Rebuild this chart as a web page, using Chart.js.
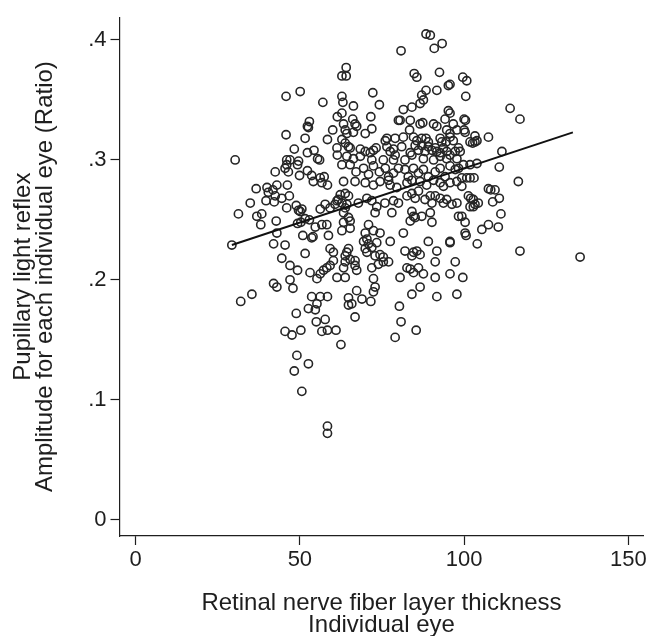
<!DOCTYPE html>
<html>
<head>
<meta charset="utf-8">
<script src="https://cdn.jsdelivr.net/npm/chart.js@4.4.1/dist/chart.umd.min.js"></script>
<style>
  html, body { margin: 0; padding: 0; background: #fff; }
  #plot { display: block; }
</style>
</head>
<body>
<canvas id="plot" width="650" height="636"></canvas>
<script>
// Ejes: ticks y rangos tal como salen en la figura
const xTicks = [0, 50, 100, 150];
const yTicks = [0, 0.1, 0.2, 0.3, 0.4];
const xRange = [-4.9, 154.6];
const yRange = [-0.0136, 0.419];

// Recta de ajuste lineal (extremos)
const fitX = [29.3, 133.1];
const fitY = [0.229, 0.323];

// Cada ojo: [grosor RNFL, amplitud del reflejo]
const eyes = [
  // izquierda / arriba
  [50.1,.357],[45.8,.353],[57.0,.348],[52.9,.332],[52.3,.328],[52.6,.327],[61.4,.336],[60.0,.325],[45.8,.321],[51.6,.318],
  [58.4,.317],[48.3,.309],[52.3,.306],[54.3,.308],[55.4,.301],[56.0,.300],[61.3,.310],[61.4,.304],[30.3,.300],[46.0,.300],
  [47.0,.300],[49.6,.299],
  // izquierda / centro
  [42.5,.290],[45.5,.293],[46.0,.296],[46.5,.290],[49.3,.296],[49.9,.287],[52.3,.291],[53.6,.287],[54.1,.282],[56.2,.285],
  [57.4,.286],[58.4,.279],[56.7,.281],[36.7,.276],[40.0,.277],[40.4,.273],[41.8,.275],[43.0,.279],[42.5,.270],[46.2,.279],
  [46.8,.270],[39.7,.266],[42.2,.265],[44.5,.268],[34.9,.264],[31.3,.255],[36.9,.253],[38.4,.255],[38.1,.246],[46.0,.260],
  [48.9,.262],[49.6,.258],[50.1,.257],[50.6,.259],[49.3,.247],[50.3,.248],[51.6,.251],[52.9,.250],[42.8,.249],[43.0,.239],
  [56.2,.259],[57.7,.263],[59.2,.260],[60.7,.263],[61.3,.266],[61.7,.267],[54.7,.244],[56.7,.246],[58.2,.246],[54.0,.236],
  [50.9,.237],[53.6,.235],[58.7,.237],[29.3,.229],[42.0,.230],[45.5,.229],[51.6,.222],[59.2,.226],[60.2,.223],[44.5,.218],
  [47.0,.212],[49.3,.208],[53.1,.206],[55.2,.201],[56.2,.205],[57.2,.208],[58.2,.210],[59.2,.212],[60.2,.216],[61.3,.202],
  [42.0,.197],[43.0,.194],[47.0,.200],[47.9,.193],[35.4,.188],[32.0,.182],[53.6,.186],[56.2,.186],[58.4,.186],
  // izquierda / abajo
  [48.9,.172],[52.6,.176],[54.7,.175],[55.2,.180],[55.0,.165],[57.7,.167],[56.7,.157],[58.4,.158],[61.0,.158],[45.5,.157],
  [47.6,.154],[50.3,.158],[62.5,.146],[49.1,.137],[52.6,.130],[48.3,.124],[50.6,.107],[58.4,.078],[58.4,.072],
  // centro / abajo
  [64.8,.179],[65.8,.180],[71.6,.182],[80.3,.178],[66.8,.169],[80.8,.165],[85.4,.158],[79.0,.152],
  // centro
  [62.8,.296],[65.3,.296],[67.1,.290],[69.4,.293],[70.9,.288],[72.4,.295],[74.2,.290],[76.0,.293],[77.0,.286],[78.5,.289],
  [80.0,.293],[82.0,.292],[83.0,.286],[84.6,.293],[86.1,.289],[87.6,.292],[89.1,.286],[91.2,.290],[92.7,.293],[94.2,.286],
  [95.7,.295],[97.3,.292],[98.3,.293],
  [63.3,.282],[66.8,.282],[69.9,.281],[72.4,.279],[74.4,.282],[77.0,.283],[77.5,.279],[79.5,.277],[82.6,.281],[84.1,.283],
  [86.6,.282],[88.6,.279],[90.7,.283],[92.7,.281],[93.7,.278],[95.7,.281],[97.8,.282],
  [62.3,.271],[63.8,.272],[64.8,.270],[62.8,.264],[64.3,.263],[63.8,.260],[67.8,.264],[70.4,.268],[71.9,.266],[73.4,.261],
  [72.9,.256],[75.9,.264],[78.5,.266],[80.0,.264],[82.6,.270],[84.1,.272],[85.1,.268],[86.1,.274],[88.1,.267],[89.7,.270],
  [90.2,.264],[91.2,.270],[92.7,.268],[93.7,.264],[94.7,.267],[96.3,.263],[97.8,.264],
  [63.3,.256],[64.8,.252],[65.3,.249],[63.3,.248],[65.3,.243],[62.8,.241],[70.9,.246],[72.4,.241],[74.4,.239],[77.5,.232],
  [78.0,.256],[84.1,.257],[84.6,.253],[83.6,.249],[85.1,.252],[87.1,.253],[89.7,.256],[90.2,.248],[81.5,.239],[95.7,.231],
  [98.3,.253],
  [69.9,.239],[70.4,.234],[69.4,.232],[70.9,.230],[71.9,.227],[69.9,.226],[70.4,.223],[64.8,.226],[64.3,.223],[63.8,.220],
  [65.3,.217],[63.8,.215],[66.8,.216],[72.9,.220],[74.4,.221],[75.4,.219],[77.0,.215],[82.0,.224],[84.6,.223],[85.6,.224],
  [86.6,.221],[84.1,.220],[89.1,.232],[91.7,.224],[91.2,.215],[95.7,.232],[97.3,.215],[73.4,.231],
  [63.3,.210],[63.8,.202],[66.8,.212],[67.3,.208],[71.9,.210],[72.4,.201],[72.9,.194],[72.4,.190],[67.3,.191],[64.8,.185],
  [68.9,.184],[80.5,.202],[82.6,.210],[83.6,.209],[84.6,.206],[86.1,.210],[87.6,.205],[91.2,.202],[86.6,.194],[84.1,.188],
  [91.7,.186],[95.7,.205],[97.8,.188],[73.9,.213],[75.4,.215],
  // derecha
  [99.8,.296],[101.8,.296],[103.9,.297],[110.7,.294],[99.3,.285],[100.8,.285],[101.8,.285],[103.0,.285],[99.3,.278],[116.5,.282],
  [107.4,.276],[108.1,.275],[109.4,.275],[110.7,.268],[108.7,.265],[101.3,.270],[102.0,.268],[102.8,.267],[103.3,.263],[104.3,.264],
  [101.8,.261],[102.8,.261],[111.2,.255],[99.3,.253],[100.3,.248],[100.3,.239],[100.6,.237],[107.4,.246],[105.4,.242],[110.4,.244],
  [104.0,.230],[117.0,.224],[135.3,.219],[99.6,.202],
  [99.6,.369],[100.8,.366],[100.5,.353],[114.0,.343],[117.0,.334],[100.0,.334],[100.4,.333],[100.0,.325],[100.3,.323],[107.4,.319],
  [103.3,.320],[101.8,.315],[102.6,.314],[103.3,.315],[103.9,.316],[111.5,.307],[98.8,.307],
  // centro / arriba
  [88.4,.405],[89.7,.404],[93.3,.397],[90.9,.393],[80.8,.391],[64.1,.377],[62.8,.370],[64.1,.370],[84.8,.372],[85.6,.369],
  [92.5,.373],[95.2,.362],[95.7,.363],[72.2,.356],[88.4,.358],[91.7,.358],[87.1,.354],[87.6,.350],[86.6,.347],[62.8,.353],
  [63.1,.348],[66.3,.345],[74.2,.346],[84.1,.344],[81.5,.342],[95.2,.341],[95.7,.339],[94.2,.334],[62.8,.339],[71.6,.336],
  [66.1,.334],[66.8,.330],[67.3,.328],[66.3,.323],[83.6,.333],[80.5,.333],[80.0,.333],[87.4,.331],[86.6,.330],[90.7,.330],
  [91.7,.328],[96.7,.330],[97.8,.325],[94.7,.325],[95.7,.322],[63.3,.330],[63.8,.325],[64.3,.322],[71.9,.326],[83.4,.325],
  [69.9,.322],[76.5,.318],[76.0,.316],[79.0,.318],[81.5,.319],[84.6,.319],[85.6,.316],[87.1,.318],[88.4,.318],[89.1,.315],
  [92.7,.318],[93.2,.315],[94.5,.315],[95.7,.319],[96.7,.316],[62.8,.317],[63.8,.314],[64.8,.311],[65.3,.310],[68.4,.309],
  [69.9,.307],[71.4,.306],[72.4,.308],[73.2,.310],[76.5,.311],[77.5,.307],[78.5,.309],[79.0,.304],[81.0,.311],[83.6,.306],
  [85.1,.312],[86.1,.308],[87.1,.312],[88.1,.307],[89.1,.311],[90.2,.308],[91.2,.310],[91.7,.307],[92.7,.306],[93.7,.310],
  [94.7,.307],[95.7,.304],[97.3,.307],[98.3,.310],
  [64.3,.303],[66.3,.301],[68.4,.303],[71.9,.300],[75.4,.300],[78.5,.300],[82.0,.300],[84.1,.304],[87.6,.301],[90.7,.300],
  [92.7,.303],[94.7,.301],[97.8,.301]
];

const INK = '#1e1e1e';
const FONT = '"Liberation Sans", Arial, Helvetica, sans-serif';

// Etiquetas estilo Stata: ".1", ".2" ... y "0"
const fmtY = (v) => (v === 0 ? '0' : String(v).replace(/^0\./, '.'));

new Chart(document.getElementById('plot'), {
  type: 'scatter',
  data: {
    datasets: [
      {
        data: eyes.map(([x, y]) => ({ x, y })),
        pointStyle: 'circle', pointRadius: 4.1, borderWidth: 1.6,
        borderColor: '#262626', backgroundColor: 'rgba(0,0,0,0)', order: 2
      },
      {
        type: 'line',
        data: fitX.map((x, i) => ({ x, y: fitY[i] })),
        borderColor: '#111', borderWidth: 2, pointRadius: 0, fill: false, order: 1
      }
    ]
  },
  options: {
    responsive: false, animation: false, devicePixelRatio: 1,
    layout: { padding: { top: 12.5, right: 6.5, bottom: 0, left: 0 } },
    plugins: { legend: { display: false }, tooltip: { enabled: false } },
    scales: {
      x: {
        type: 'linear', min: xRange[0], max: xRange[1],
        afterBuildTicks: (s) => { s.ticks = xTicks.map((v) => ({ value: v })); },
        afterFit: (s) => { s.height = 100; },
        grid: { drawOnChartArea: false, drawTicks: true, tickLength: 9, tickWidth: 1.2, color: INK },
        border: { display: true, color: INK, width: 1.2 },
        ticks: { color: INK, font: { family: FONT, size: 22 }, padding: 2, maxRotation: 0, autoSkip: false },
        title: {
          display: true, color: INK,
          text: ['Retinal nerve fiber layer thickness', 'Individual eye'],
          font: { family: FONT, size: 24, lineHeight: '22px' },
          padding: { top: 0, bottom: 0 }
        }
      },
      y: {
        type: 'linear', min: yRange[0], max: yRange[1],
        afterBuildTicks: (s) => { s.ticks = yTicks.map((v) => ({ value: v })); },
        afterFit: (s) => { s.width = 119.5; },
        grid: { drawOnChartArea: false, drawTicks: true, tickLength: 9, tickWidth: 1.2, color: INK },
        border: { display: true, color: INK, width: 1.2 },
        ticks: { color: INK, font: { family: FONT, size: 22 }, padding: 4, callback: fmtY },
        title: {
          display: true, color: INK,
          text: ['Pupillary light reflex', 'Amplitude for each individual eye (Ratio)'],
          font: { family: FONT, size: 24, lineHeight: '22px' },
          padding: { top: 12, bottom: 0 }
        }
      }
    }
  }
});
</script>
</body>
</html>
